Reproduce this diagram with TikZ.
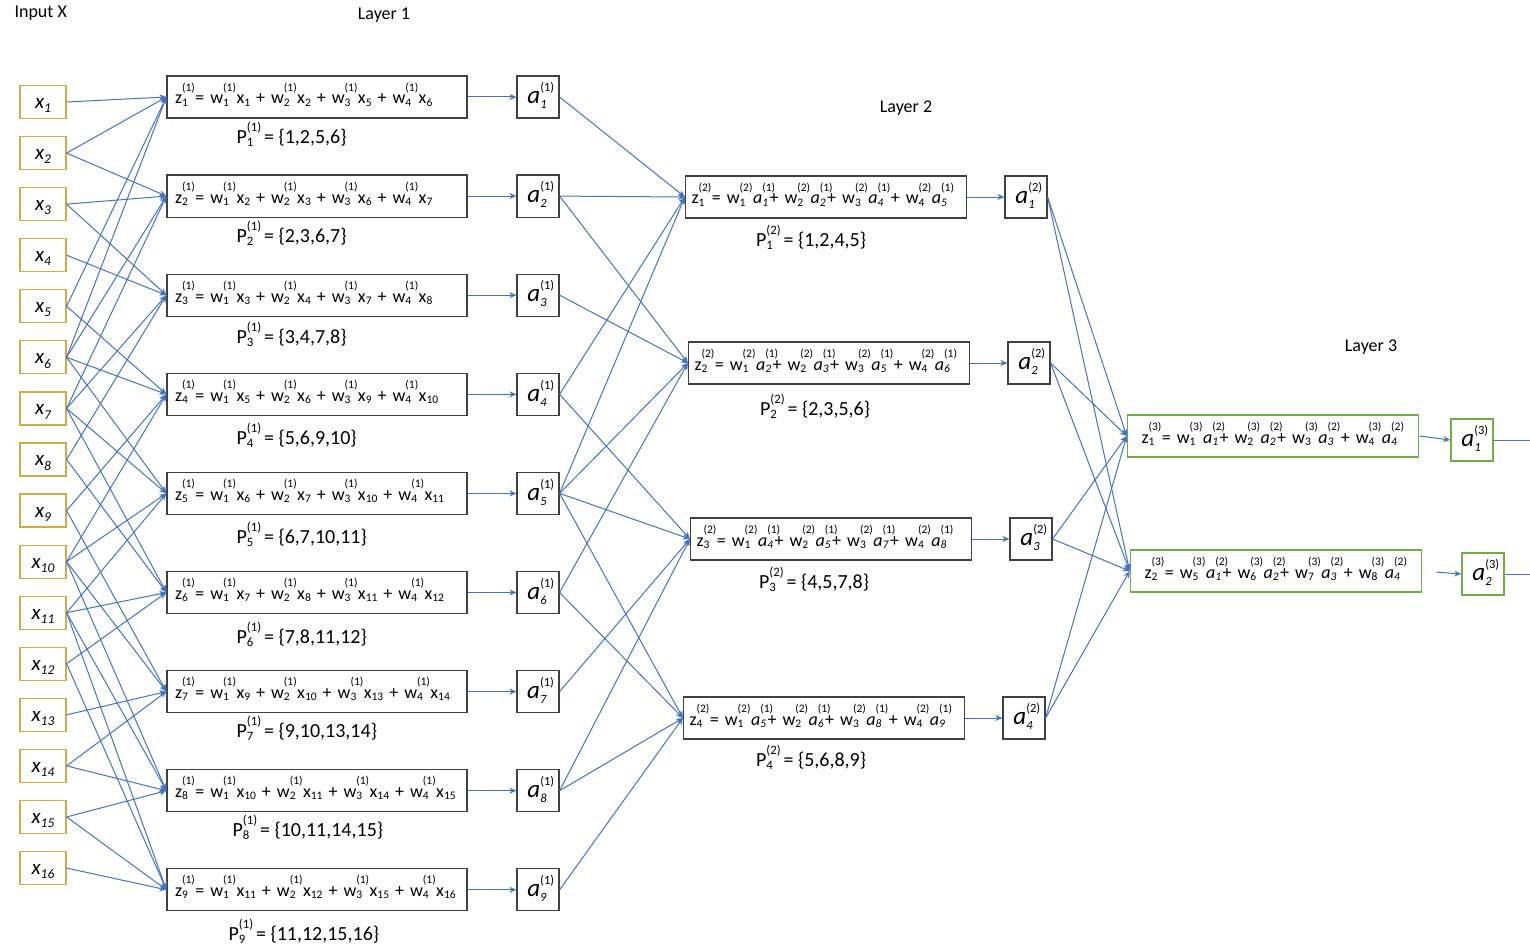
\documentclass[tikz,border=0pt]{standalone}
\usepackage{fontspec}
\setmainfont{Carlito}
\usetikzlibrary{positioning,arrows.meta}

\definecolor{linkblue}{RGB}{68,114,196}
\definecolor{inputgold}{RGB}{208,172,72}
\definecolor{outgreen}{RGB}{112,173,71}
\definecolor{boxgray}{RGB}{64,64,64}

% symbol with a raised (layer) index over its subscript
\newcommand{\idxratio}{0.64}
\newcommand{\suprise}{0.72em}
\newcommand{\sublower}{0.12em}
\makeatletter
\newcommand{\idx}[1]{{\fontsize{\fpeval{\idxratio*\f@size}}{1}\selectfont #1}}
\makeatother
\newcommand{\vr}[3]{#1\rlap{\raisebox{\suprise}{\idx{(#3)}}}\raisebox{-\sublower}{\idx{#2}}\kern0.08em\relax}
\newcommand{\xv}[1]{x\raisebox{-\sublower}{\idx{#1}}}
\newcommand{\av}[2]{\vr{\textit{a}}{\textit{#1}}{#2}}

\tikzstyle{inputbox} = [rectangle, draw=inputgold, line width=1.2pt, minimum width=46pt, minimum height=33pt, inner sep=0pt, text height=14pt, text depth=1pt, font={\fontsize{21}{24}\selectfont\itshape\def\sublower{0.2em}}]
\tikzstyle{sumbox} = [rectangle, draw=boxgray, line width=1.2pt, minimum height=42pt, text width=284pt, inner xsep=8pt, inner ysep=0pt, text height=18pt, text depth=4pt, align=left, font=\fontsize{18}{22}\selectfont, execute at begin node=\hbox\bgroup, execute at end node=\egroup]
\tikzstyle{actbox} = [rectangle, draw=boxgray, line width=1.2pt, minimum width=42pt, minimum height=42pt, inner sep=0pt, text height=17pt, text depth=3.5pt, font={\fontsize{25}{28}\selectfont\def\idxratio{0.5}\def\suprise{0.48em}\def\sublower{0.2em}}]
\tikzstyle{setlabel} = [anchor=west, inner sep=0pt, font={\fontsize{20}{24}\selectfont\def\suprise{0.6em}\def\sublower{0.15em}}]
\tikzstyle{title} = [font=\fontsize{18}{20}\selectfont]
\tikzstyle{arrow} = [->, >={Stealth[length=7pt, width=6pt]}, draw=linkblue, line width=1pt]
\tikzstyle{link} = [draw=linkblue, line width=1pt]

\begin{document}
\begin{tikzpicture}[x=1pt, y=-1pt]
        \useasboundingbox (0,0) rectangle (1530,944);

        \node (intitle) [title, anchor=west] at (11,13) {Input X};
        \node (l1title) [title] at (384,15) {Layer 1};
        \node (l2title) [title] at (906,108) {Layer 2};
        \node (l3title) [title] at (1371,347) {Layer 3};

        % input column
        \begin{scope}[node distance=51.07pt]
        \node (x1) [inputbox] at (43,102) {\xv{1}};
        \node (x2) [inputbox, below of=x1] {\xv{2}};
        \node (x3) [inputbox, below of=x2] {\xv{3}};
        \node (x4) [inputbox, below of=x3] {\xv{4}};
        \node (x5) [inputbox, below of=x4] {\xv{5}};
        \node (x6) [inputbox, below of=x5] {\xv{6}};
        \node (x7) [inputbox, below of=x6] {\xv{7}};
        \node (x8) [inputbox, below of=x7] {\xv{8}};
        \node (x9) [inputbox, below of=x8] {\xv{9}};
        \node (x10) [inputbox, below of=x9] {\xv{10}};
        \node (x11) [inputbox, below of=x10] {\xv{11}};
        \node (x12) [inputbox, below of=x11] {\xv{12}};
        \node (x13) [inputbox, below of=x12] {\xv{13}};
        \node (x14) [inputbox, below of=x13] {\xv{14}};
        \node (x15) [inputbox, below of=x14] {\xv{15}};
        \node (x16) [inputbox, below of=x15] {\xv{16}};
        \end{scope}

        % layer 1 sums
        \begin{scope}[node distance=99.1pt]
        \node (l1z1) [sumbox] at (317,97) {\vr{z}{1}{1} = \vr{w}{1}{1} \xv{1} + \vr{w}{2}{1} \xv{2} + \vr{w}{3}{1} \xv{5} + \vr{w}{4}{1} \xv{6}};
        \node (l1z2) [sumbox, below of=l1z1] {\vr{z}{2}{1} = \vr{w}{1}{1} \xv{2} + \vr{w}{2}{1} \xv{3} + \vr{w}{3}{1} \xv{6} + \vr{w}{4}{1} \xv{7}};
        \node (l1z3) [sumbox, below of=l1z2] {\vr{z}{3}{1} = \vr{w}{1}{1} \xv{3} + \vr{w}{2}{1} \xv{4} + \vr{w}{3}{1} \xv{7} + \vr{w}{4}{1} \xv{8}};
        \node (l1z4) [sumbox, below of=l1z3] {\vr{z}{4}{1} = \vr{w}{1}{1} \xv{5} + \vr{w}{2}{1} \xv{6} + \vr{w}{3}{1} \xv{9} + \vr{w}{4}{1} \xv{10}};
        \node (l1z5) [sumbox, below of=l1z4] {\vr{z}{5}{1} = \vr{w}{1}{1} \xv{6} + \vr{w}{2}{1} \xv{7} + \vr{w}{3}{1} \xv{10} + \vr{w}{4}{1} \xv{11}};
        \node (l1z6) [sumbox, below of=l1z5] {\vr{z}{6}{1} = \vr{w}{1}{1} \xv{7} + \vr{w}{2}{1} \xv{8} + \vr{w}{3}{1} \xv{11} + \vr{w}{4}{1} \xv{12}};
        \node (l1z7) [sumbox, below of=l1z6] {\vr{z}{7}{1} = \vr{w}{1}{1} \xv{9} + \vr{w}{2}{1} \xv{10} + \vr{w}{3}{1} \xv{13} + \vr{w}{4}{1} \xv{14}};
        \node (l1z8) [sumbox, below of=l1z7] {\vr{z}{8}{1} = \vr{w}{1}{1} \xv{10} + \vr{w}{2}{1} \xv{11} + \vr{w}{3}{1} \xv{14} + \vr{w}{4}{1} \xv{15}};
        \node (l1z9) [sumbox, below of=l1z8] {\vr{z}{9}{1} = \vr{w}{1}{1} \xv{11} + \vr{w}{2}{1} \xv{12} + \vr{w}{3}{1} \xv{15} + \vr{w}{4}{1} \xv{16}};
        \end{scope}

        % layer 1 index sets
        \node (l1p1) [setlabel] at ([xshift=70pt, yshift=-16pt]l1z1.south west) {\vr{P}{1}{1}\hspace{0.45em}= \{1,2,5,6\}};
        \node (l1p2) [setlabel] at ([xshift=70pt, yshift=-16pt]l1z2.south west) {\vr{P}{2}{1}\hspace{0.45em}= \{2,3,6,7\}};
        \node (l1p3) [setlabel] at ([xshift=70pt, yshift=-18pt]l1z3.south west) {\vr{P}{3}{1}\hspace{0.45em}= \{3,4,7,8\}};
        \node (l1p4) [setlabel] at ([xshift=70pt, yshift=-19pt]l1z4.south west) {\vr{P}{4}{1}\hspace{0.45em}= \{5,6,9,10\}};
        \node (l1p5) [setlabel] at ([xshift=70pt, yshift=-19pt]l1z5.south west) {\vr{P}{5}{1}\hspace{0.45em}= \{6,7,10,11\}};
        \node (l1p6) [setlabel] at ([xshift=70pt, yshift=-20pt]l1z6.south west) {\vr{P}{6}{1}\hspace{0.45em}= \{7,8,11,12\}};
        \node (l1p7) [setlabel] at ([xshift=70pt, yshift=-15pt]l1z7.south west) {\vr{P}{7}{1}\hspace{0.45em}= \{9,10,13,14\}};
        \node (l1p8) [setlabel] at ([xshift=66pt, yshift=-15pt]l1z8.south west) {\vr{P}{8}{1}\hspace{0.45em}= \{10,11,14,15\}};
        \node (l1p9) [setlabel] at ([xshift=62pt, yshift=-20pt]l1z9.south west) {\vr{P}{9}{1}\hspace{0.45em}= \{11,12,15,16\}};

        % layer 1 activations
        \begin{scope}[node distance=221pt]
        \node (l1a1) [actbox, right of=l1z1] {\av{1}{1}};
        \node (l1a2) [actbox, right of=l1z2] {\av{2}{1}};
        \node (l1a3) [actbox, right of=l1z3] {\av{3}{1}};
        \node (l1a4) [actbox, right of=l1z4] {\av{4}{1}};
        \node (l1a5) [actbox, right of=l1z5] {\av{5}{1}};
        \node (l1a6) [actbox, right of=l1z6] {\av{6}{1}};
        \node (l1a7) [actbox, right of=l1z7] {\av{7}{1}};
        \node (l1a8) [actbox, right of=l1z8] {\av{8}{1}};
        \node (l1a9) [actbox, right of=l1z9] {\av{9}{1}};
        \end{scope}

        % layer 2
        \node (l2z1) [sumbox, text width=269pt, inner xsep=6pt] at (826,197) {\vr{z}{1}{2} = \vr{w}{1}{2} \av{1}{1}+ \vr{w}{2}{2} \av{2}{1}+ \vr{w}{3}{2} \av{4}{1} + \vr{w}{4}{2} \av{5}{1}};
        \node (l2z2) [sumbox, text width=269pt, inner xsep=6pt] at (829,363) {\vr{z}{2}{2} = \vr{w}{1}{2} \av{2}{1}+ \vr{w}{2}{2} \av{3}{1}+ \vr{w}{3}{2} \av{5}{1} + \vr{w}{4}{2} \av{6}{1}};
        \node (l2z3) [sumbox, text width=269pt, inner xsep=6pt] at (831,539) {\vr{z}{3}{2} = \vr{w}{1}{2} \av{4}{1}+ \vr{w}{2}{2} \av{5}{1}+ \vr{w}{3}{2} \av{7}{1}+ \vr{w}{4}{2} \av{8}{1}};
        \node (l2z4) [sumbox, text width=269pt, inner xsep=6pt] at (824,718) {\vr{z}{4}{2} = \vr{w}{1}{2} \av{5}{1}+ \vr{w}{2}{2} \av{6}{1}+ \vr{w}{3}{2} \av{8}{1} + \vr{w}{4}{2} \av{9}{1}};

        \node (l2p1) [setlabel] at ([xshift=71pt, yshift=-19pt]l2z1.south west) {\vr{P}{1}{2}\hspace{0.45em}= \{1,2,4,5\}};
        \node (l2p2) [setlabel] at ([xshift=72pt, yshift=-22pt]l2z2.south west) {\vr{P}{2}{2}\hspace{0.45em}= \{2,3,5,6\}};
        \node (l2p3) [setlabel] at ([xshift=69pt, yshift=-19pt]l2z3.south west) {\vr{P}{3}{2}\hspace{0.45em}= \{4,5,7,8\}};
        \node (l2p4) [setlabel] at ([xshift=73pt, yshift=-18pt]l2z4.south west) {\vr{P}{4}{2}\hspace{0.45em}= \{5,6,8,9\}};

        \begin{scope}[node distance=200pt]
        \node (l2a1) [actbox, right of=l2z1] {\av{1}{2}};
        \node (l2a2) [actbox, right of=l2z2] {\av{2}{2}};
        \node (l2a3) [actbox, right of=l2z3] {\av{3}{2}};
        \node (l2a4) [actbox, right of=l2z4] {\av{4}{2}};
        \end{scope}

        % layer 3 (output)
        \node (l3z1) [sumbox, draw=outgreen, line width=1.6pt, text width=263pt, inner xsep=14pt] at (1273,436) {\vr{z}{1}{3} = \vr{w}{1}{3} \av{1}{2}+ \vr{w}{2}{3} \av{2}{2}+ \vr{w}{3}{3} \av{3}{2} + \vr{w}{4}{3} \av{4}{2}};
        \node (l3z2) [sumbox, draw=outgreen, line width=1.6pt, text width=263pt, inner xsep=14pt] at (1276,571) {\vr{z}{2}{3} = \vr{w}{5}{3} \av{1}{2}+ \vr{w}{6}{3} \av{2}{2}+ \vr{w}{7}{3} \av{3}{2} + \vr{w}{8}{3} \av{4}{2}};
        \node (l3a1) [actbox, draw=outgreen, line width=1.6pt] at (1472,440) {\av{1}{3}};
        \node (l3a2) [actbox, draw=outgreen, line width=1.6pt] at (1483,574) {\av{2}{3}};
        \coordinate (out1) at (1530,440);
        \coordinate (out2) at (1530,574);

        % inputs -> layer 1
        \draw [arrow] (x1.east) -- (l1z1.west);
        \draw [arrow] (x2.east) -- (l1z1.west);
        \draw [arrow] (x5.east) -- (l1z1.west);
        \draw [arrow] (x6.east) -- (l1z1.west);
        \draw [arrow] (x2.east) -- (l1z2.west);
        \draw [arrow] (x3.east) -- (l1z2.west);
        \draw [arrow] (x6.east) -- (l1z2.west);
        \draw [arrow] (x7.east) -- (l1z2.west);
        \draw [arrow] (x3.east) -- (l1z3.west);
        \draw [arrow] (x4.east) -- (l1z3.west);
        \draw [arrow] (x7.east) -- (l1z3.west);
        \draw [arrow] (x8.east) -- (l1z3.west);
        \draw [arrow] (x5.east) -- (l1z4.west);
        \draw [arrow] (x6.east) -- (l1z4.west);
        \draw [arrow] (x9.east) -- (l1z4.west);
        \draw [arrow] (x10.east) -- (l1z4.west);
        \draw [arrow] (x6.east) -- (l1z5.west);
        \draw [arrow] (x7.east) -- (l1z5.west);
        \draw [arrow] (x10.east) -- (l1z5.west);
        \draw [arrow] (x11.east) -- (l1z5.west);
        \draw [arrow] (x7.east) -- (l1z6.west);
        \draw [arrow] (x8.east) -- (l1z6.west);
        \draw [arrow] (x11.east) -- (l1z6.west);
        \draw [arrow] (x12.east) -- (l1z6.west);
        \draw [arrow] (x9.east) -- (l1z7.west);
        \draw [arrow] (x10.east) -- (l1z7.west);
        \draw [arrow] (x13.east) -- (l1z7.west);
        \draw [arrow] (x14.east) -- (l1z7.west);
        \draw [arrow] (x10.east) -- (l1z8.west);
        \draw [arrow] (x11.east) -- (l1z8.west);
        \draw [arrow] (x14.east) -- (l1z8.west);
        \draw [arrow] (x15.east) -- (l1z8.west);
        \draw [arrow] (x11.east) -- (l1z9.west);
        \draw [arrow] (x12.east) -- (l1z9.west);
        \draw [arrow] (x15.east) -- (l1z9.west);
        \draw [arrow] (x16.east) -- (l1z9.west);

        % sum -> activation
        \draw [arrow] (l1z1.east) -- (l1a1.west);
        \draw [arrow] (l1z2.east) -- (l1a2.west);
        \draw [arrow] (l1z3.east) -- (l1a3.west);
        \draw [arrow] (l1z4.east) -- (l1a4.west);
        \draw [arrow] (l1z5.east) -- (l1a5.west);
        \draw [arrow] (l1z6.east) -- (l1a6.west);
        \draw [arrow] (l1z7.east) -- (l1a7.west);
        \draw [arrow] (l1z8.east) -- (l1a8.west);
        \draw [arrow] (l1z9.east) -- (l1a9.west);

        % layer 1 -> layer 2
        \draw [arrow] (l1a1.east) -- (l2z1.west);
        \draw [arrow] (l1a2.east) -- (l2z1.west);
        \draw [arrow] (l1a4.east) -- (l2z1.west);
        \draw [arrow] (l1a5.east) -- (l2z1.west);
        \draw [arrow] (l1a2.east) -- (l2z2.west);
        \draw [arrow] (l1a3.east) -- (l2z2.west);
        \draw [arrow] (l1a5.east) -- (l2z2.west);
        \draw [arrow] (l1a6.east) -- (l2z2.west);
        \draw [arrow] (l1a4.east) -- (l2z3.west);
        \draw [arrow] (l1a5.east) -- (l2z3.west);
        \draw [arrow] (l1a7.east) -- (l2z3.west);
        \draw [arrow] (l1a8.east) -- (l2z3.west);
        \draw [arrow] (l1a5.east) -- (l2z4.west);
        \draw [arrow] (l1a6.east) -- (l2z4.west);
        \draw [arrow] (l1a8.east) -- (l2z4.west);
        \draw [arrow] (l1a9.east) -- (l2z4.west);

        \draw [arrow] (l2z1.east) -- (l2a1.west);
        \draw [arrow] (l2z2.east) -- (l2a2.west);
        \draw [arrow] (l2z3.east) -- (l2a3.west);
        \draw [arrow] (l2z4.east) -- (l2a4.west);

        % layer 2 -> layer 3
        \draw [arrow] (l2a1.east) -- (l3z1.west);
        \draw [arrow] (l2a2.east) -- (l3z1.west);
        \draw [arrow] (l2a3.east) -- (l3z1.west);
        \draw [arrow] (l2a4.east) -- (l3z1.west);
        \draw [arrow] (l2a1.east) -- (l3z2.west);
        \draw [arrow] (l2a2.east) -- (l3z2.west);
        \draw [arrow] (l2a3.east) -- (l3z2.west);
        \draw [arrow] (l2a4.east) -- (l3z2.west);

        \draw [arrow] (l3z1.east) -- (l3a1.west);
        \draw [arrow, shorten <=14pt] (l3z2.east) -- (l3a2.west);
        \draw [link] (l3a1.east) -- (out1);
        \draw [link] (l3a2.east) -- (out2);
\end{tikzpicture}
\end{document}
